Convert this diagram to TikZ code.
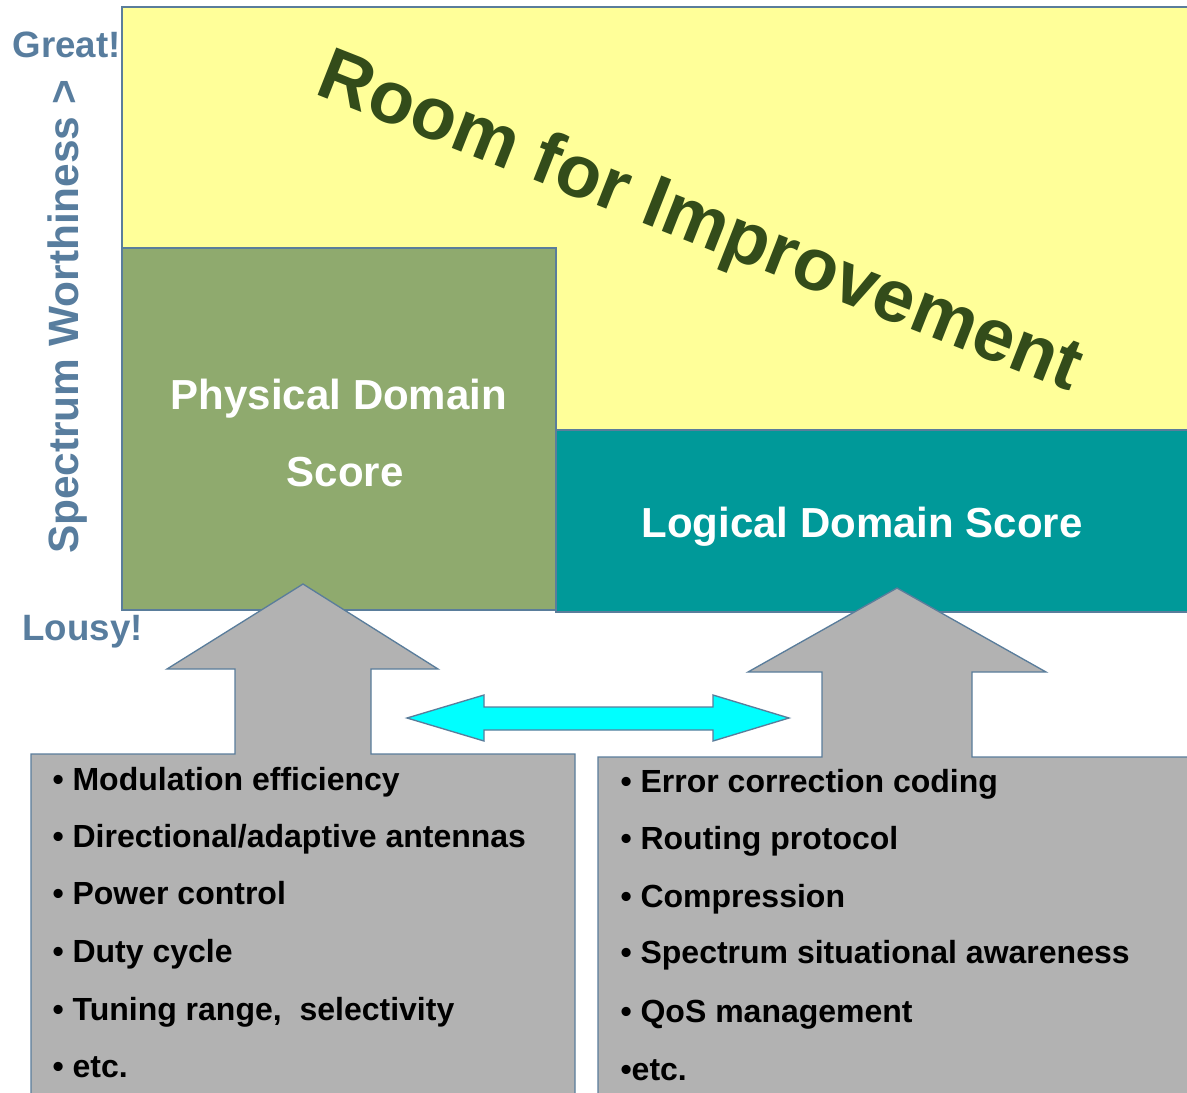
\documentclass[tikz,border=0pt]{standalone}
\usepackage{fontspec}
\setmainfont{Liberation Sans}
\definecolor{edgeblue}{RGB}{90,125,155}
\definecolor{labelblue}{RGB}{88,125,158}
\definecolor{roomyellow}{RGB}{255,255,153}
\definecolor{physgreen}{RGB}{143,170,110}
\definecolor{logicteal}{RGB}{0,153,153}
\definecolor{listgray}{RGB}{178,178,178}
\definecolor{roomtext}{RGB}{51,76,26}
\definecolor{swapcyan}{RGB}{0,255,255}
\tikzset{every picture/.style={line width=0.75pt}}
\tikzset{
  panel/.style={draw=edgeblue, line width=1pt},
  itemtext/.style={anchor=base west, inner sep=0pt, font=\fontsize{24}{28}\selectfont\bfseries},
  scoretext/.style={anchor=base, inner sep=0pt, text=white, font=\fontsize{31.5}{36}\selectfont\bfseries},
  axistext/.style={inner sep=0pt, text=labelblue, font=\fontsize{27.5}{32}\selectfont\bfseries}
}
\begin{document}
\begin{tikzpicture}[x=0.75pt,y=0.75pt,yscale=-1,xscale=1]
\useasboundingbox (0,0) rectangle (1187,1092);

%Shape: Rectangle [id:room]
\draw [panel, fill=roomyellow] (122,7) rectangle (1200,430);
%Shape: Rectangle [id:physical]
\draw [panel, fill=physgreen] (122,248) rectangle (556,610);
%Shape: Rectangle [id:logical]
\draw [panel, fill=logicteal] (556,430) rectangle (1200,612);

%Shape: Up Arrow with list box [id:physlist]
\draw [panel, fill=listgray] (31,1100) -- (31,754) -- (235,754) -- (235,669) -- (167,669) -- (303,584) -- (438,669) -- (371,669) -- (371,754) -- (575,754) -- (575,1100) ;
%Shape: Up Arrow with list box [id:logiclist]
\draw [panel, fill=listgray] (598,1100) -- (598,757) -- (822,757) -- (822,672) -- (748,672) -- (897,588) -- (1046,672) -- (972,672) -- (972,757) -- (1200,757) -- (1200,1100) ;
%Shape: Left Right Arrow [id:tradeoff]
\draw [panel, fill=swapcyan] (407,718) -- (484,695) -- (484,707) -- (713,707) -- (713,695) -- (789,718) -- (713,741) -- (713,730) -- (484,730) -- (484,741) -- cycle ;

% Text Node
\draw (12,57) node [axistext, anchor=base west] (great) {Great!};
% Text Node
\draw (22,640) node [axistext, anchor=base west] (lousy) {Lousy!};
% Text Node
\draw (78,317) node [axistext, anchor=base, rotate=90, font=\fontsize{31.8}{36}\selectfont\bfseries] (worth) {Spectrum Worthiness >};
% Text Node
\draw (699,225) node [inner sep=0pt, rotate=-21.5, text=roomtext, font=\fontsize{55.5}{62}\selectfont\bfseries] (roomlbl) {Room for Improvement};
% Text Node
\draw (339,409) node [scoretext] (physlbl) {Physical Domain};
% Text Node
\draw (345,486) node [scoretext] (physscore) {Score};
% Text Node
\draw (862,537) node [scoretext] (logiclbl) {Logical Domain Score};

% Text Node
\draw (52,790) node [itemtext] (pa) {• Modulation efficiency};
% Text Node
\draw (52,847) node [itemtext] (pb) {• Directional/adaptive antennas};
% Text Node
\draw (52,904) node [itemtext] (pc) {• Power control};
% Text Node
\draw (52,962) node [itemtext] (pd) {• Duty cycle};
% Text Node
\draw (52,1020) node [itemtext] (pe) {• Tuning range,~ selectivity};
% Text Node
\draw (52,1077) node [itemtext] (pf) {• etc.};

% Text Node
\draw (620,792) node [itemtext] (la) {• Error correction coding};
% Text Node
\draw (620,849) node [itemtext] (lb) {• Routing protocol};
% Text Node
\draw (620,907) node [itemtext] (lc) {• Compression};
% Text Node
\draw (620,963) node [itemtext] (ld) {• Spectrum situational awareness};
% Text Node
\draw (620,1022) node [itemtext] (le) {• QoS management};
% Text Node
\draw (620,1080) node [itemtext] (lf) {•etc.};

\end{tikzpicture}
\end{document}
